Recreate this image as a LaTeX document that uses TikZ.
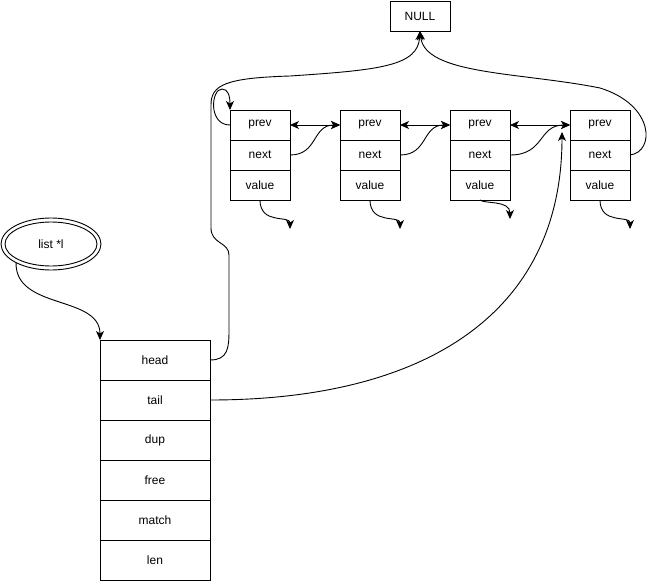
\documentclass[tikz,border=0pt]{standalone}
\usepackage{fontspec}
\setmainfont{Liberation Sans}
\usetikzlibrary{arrows.meta,shapes.geometric}
\begin{document}
\begin{tikzpicture}[x=1pt,y=-1pt, line width=0.9pt,
  cell/.style={draw, minimum width=60pt, minimum height=30pt, inner sep=0pt, outer sep=0pt, font=\fontsize{12}{14}\selectfont},
  lcell/.style={draw, minimum width=110pt, minimum height=40pt, inner sep=0pt, outer sep=0pt, font=\fontsize{12}{14}\selectfont},
  tip/.style={-{Stealth[length=9pt,width=8pt,inset=2.5pt]}},
  both/.style={{Stealth[length=9pt,width=8pt,inset=2.5pt]}-{Stealth[length=9pt,width=8pt,inset=2.5pt]}}]
\useasboundingbox (0,0) rectangle (651,581);

% NULL
\node[cell] (null) at (420,16) {NULL};

% list nodes
\node[cell] (p1) at (260,125) {prev};
\node[cell] (x1) at (260,155) {next};
\node[cell] (v1) at (260,185) {value};
\node[cell] (p2) at (370,125) {prev};
\node[cell] (x2) at (370,155) {next};
\node[cell] (v2) at (370,185) {value};
\node[cell] (p3) at (480,125) {prev};
\node[cell] (x3) at (480,155) {next};
\node[cell] (v3) at (480,185) {value};
\node[cell] (p4) at (600,125) {prev};
\node[cell] (x4) at (600,155) {next};
\node[cell] (v4) at (600,185) {value};

% list struct
\node[lcell] (head)  at (155,360) {head};
\node[lcell] (tail)  at (155,400) {tail};
\node[lcell] (dup)   at (155,440) {dup};
\node[lcell] (free)  at (155,480) {free};
\node[lcell] (match) at (155,520) {match};
\node[lcell] (len)   at (155,560) {len};

% list *l ellipse
\node[draw, ellipse, minimum width=100pt, minimum height=52pt, inner sep=0pt, outer sep=0pt,
      font=\fontsize{12}{14}\selectfont] (lst) at (51,244) {list *l};
\draw (lst.center) ellipse [x radius=46, y radius=22];

% free ends
\coordinate (e1) at (290,229);
\coordinate (e2) at (400,229);
\coordinate (e3) at (510,219);
\coordinate (e4) at (630,229);
\coordinate (tt) at (562,132);

% list *l -> head
\draw[tip] (lst.208) .. controls (15,310) and (100,295) .. (head.north west);

% head -> NULL (outer path)
\draw[tip] (head.east) .. controls (228,360) and (229,348) .. (229,330) -- (229,255)
  .. controls (229,242) and (211,244) .. (211,228) -- (211,105)
  .. controls (211,85) and (225,78) .. (290,76)
  .. controls (380,70) and (418,66) .. (null.south);

% prev1 loop -> node1 top
\draw[tip] (p1.west) .. controls (208,125) and (211,89) .. (222,89)
  .. controls (228,89) and (230,96) .. (p1.north west);

% tail -> node4 prev
\draw[tip] (tail.east) .. controls (430,400) and (562,310) .. (tt);

% prev <-> prev
\draw[both] (p1.east) -- (p2.west);
\draw[both] (p2.east) -- (p3.west);
\draw[both] (p3.east) -- (p4.west);

% next -> next prev
\draw[tip] (x1.east) .. controls (318,155) and (312,125) .. (p2.west);
\draw[tip] (x2.east) .. controls (428,155) and (422,125) .. (p3.west);
\draw[tip] (x3.east) .. controls (545,155) and (538,125) .. (p4.west);

% node4 next -> NULL
\draw[tip] (x4.east) .. controls (655,152) and (655,105) .. (600,88)
  .. controls (520,72) and (425,75) .. (null.south);

% value arrows
\draw[tip] (v1.south) .. controls (260,225) and (290,215) .. (e1);
\draw[tip] (v2.south) .. controls (370,225) and (400,215) .. (e2);
\draw[tip] (v3.south) .. controls (484,204) and (510,200) .. (e3);
\draw[tip] (v4.south) .. controls (600,225) and (630,215) .. (e4);
\end{tikzpicture}
\end{document}
